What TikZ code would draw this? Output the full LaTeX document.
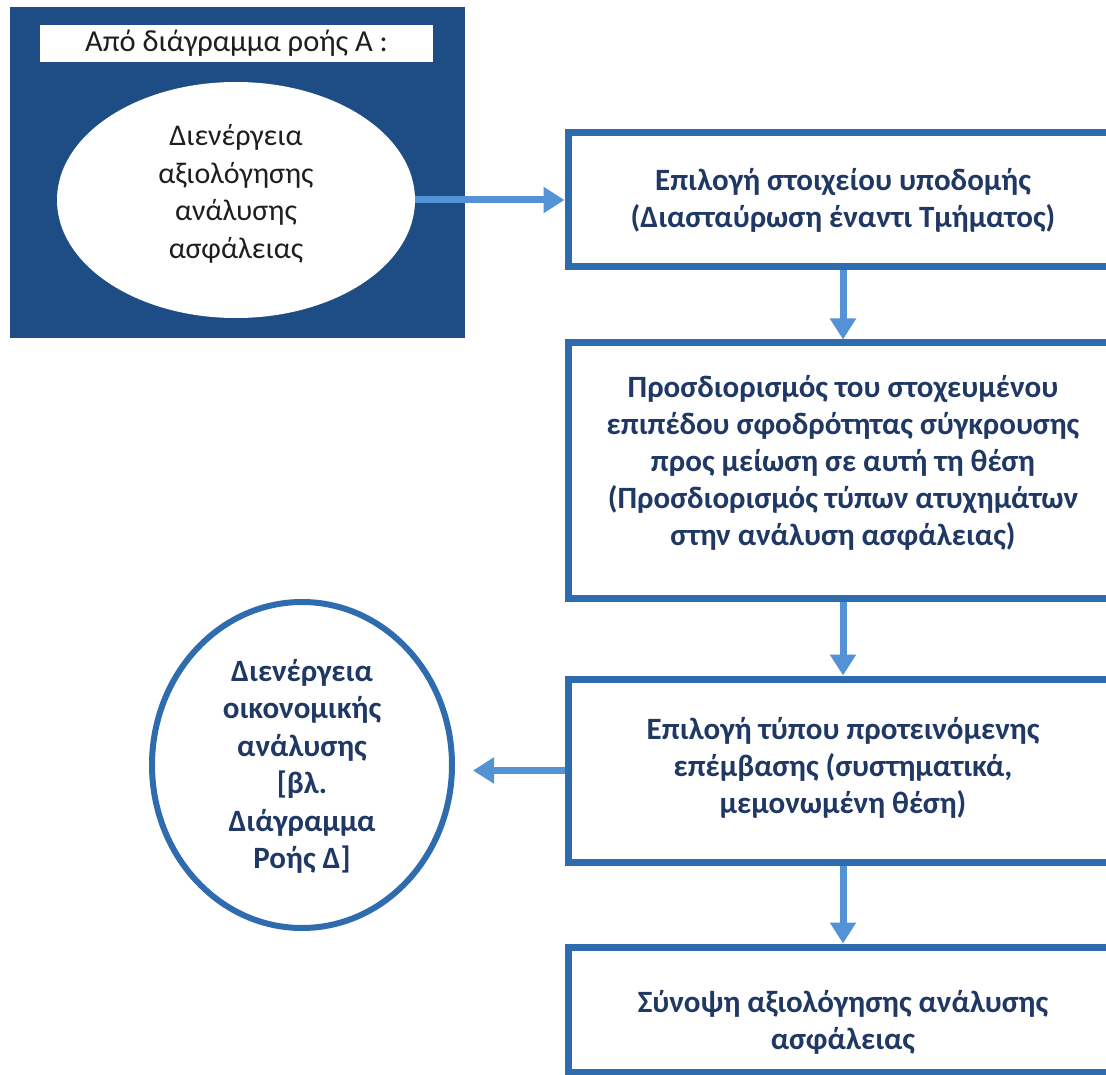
\documentclass[tikz,border=0pt]{standalone}
\usepackage{fontspec}
\setmainfont{Carlito}
\usetikzlibrary{shapes.geometric,arrows.meta}
\definecolor{darkfill}{RGB}{30,77,133}
\definecolor{boxline}{RGB}{46,108,175}
\definecolor{arrowblue}{RGB}{84,146,214}
\definecolor{navytext}{RGB}{31,56,100}
\definecolor{blacktext}{RGB}{30,30,30}
\tikzset{
  stepbox/.style={draw=boxline, line width=7pt, fill=white, rectangle, inner sep=0pt,
    minimum width=550pt, align=center, text=navytext, font=\fontsize{31}{37}\selectfont\bfseries},
  arr/.style={draw=arrowblue, line width=7pt, -{Triangle[width=25pt,length=21pt]}},
}
\begin{document}
\begin{tikzpicture}[x=1pt,y=-1pt]
\useasboundingbox (0,0) rectangle (1106,1075);
\fill[white] (0,0) rectangle (1106,1075);
\clip (0,0) rectangle (1106,1075);

% source panel
\node[rectangle, fill=darkfill, inner sep=0pt, minimum width=455pt, minimum height=331pt] (src) at (237.5,172.5) {};
\node[rectangle, fill=white, inner sep=0pt, minimum width=393pt, minimum height=37pt,
  text=blacktext, font=\fontsize{30.5}{37}\selectfont] (lbl) at (236.5,43.5) {Από διάγραμμα ροής Α :};
\node[ellipse, fill=white, inner sep=0pt, minimum width=358pt, minimum height=236pt,
  align=center, text=blacktext, font=\fontsize{30}{37.5}\selectfont] (e1) at (236,200)
  {\mbox{}\\[-29pt]Διενέργεια\\αξιολόγησης\\ανάλυσης\\ασφάλειας};

% main boxes
\node[stepbox, minimum height=134pt] (b1) at (843,200)
  {Επιλογή στοιχείου υποδομής\\(Διασταύρωση έναντι Τμήματος)};
\node[stepbox, minimum height=255pt] (b2) at (843,470.5)
  {Προσδιορισμός του στοχευμένου\\επιπέδου σφοδρότητας σύγκρουσης\\προς μείωση σε αυτή τη θέση\\(Προσδιορισμός τύπων ατυχημάτων\\στην ανάλυση ασφάλειας)\\[-17pt]\mbox{}};
\node[stepbox, minimum height=183pt] (b3) at (843,770.5)
  {\mbox{}\\[-21pt]Επιλογή τύπου προτεινόμενης\\επέμβασης (συστηματικά,\\μεμονωμένη θέση)};
\node[stepbox, minimum height=125pt] (b4) at (843,1009.5)
  {\mbox{}\\[10pt]Σύνοψη αξιολόγησης ανάλυσης\\ασφάλειας};

% economic analysis ellipse
\node[ellipse, draw=boxline, line width=6pt, fill=white, inner sep=0pt,
  minimum width=300pt, minimum height=326pt, align=center, text=navytext,
  font=\fontsize{31}{37.5}\selectfont\bfseries] (e2) at (302,765)
  {\mbox{}\\[-13pt]Διενέργεια\\οικονομικής\\ανάλυσης\\{[}βλ.\\Διάγραμμα\\Ροής Δ{]}};

% connectors
\draw[arr] (e1.east) -- (b1.west);
\draw[arr] (b1.south) -- (b2.north);
\draw[arr] (b2.south) -- (b3.north);
\draw[arr] (b3.south) -- (b4.north);
\draw[arr, shorten >=18pt] (b3.west) -- (b3.west -| e2.east);
\end{tikzpicture}
\end{document}
